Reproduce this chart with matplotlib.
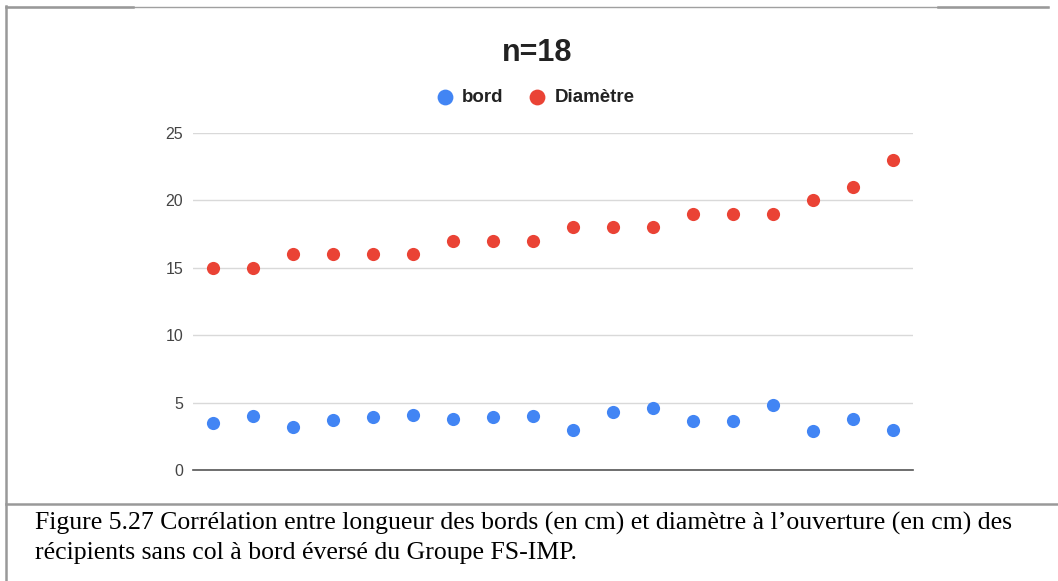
import matplotlib.pyplot as plt
from matplotlib.lines import Line2D

# rim length and opening diameter (cm), 18 vessels
vessels = list(range(1, 19))
bord = [3.5, 4.0, 3.2, 3.7, 3.9, 4.1, 3.8, 3.9, 4.0, 3.0, 4.3, 4.6, 3.6, 3.6, 4.8, 2.9, 3.8, 3.0]
diametre = [15, 15, 16, 16, 16, 16, 17, 17, 17, 18, 18, 18, 19, 19, 19, 20, 21, 23]
yticks = [0, 5, 10, 15, 20, 25]

title = "n=18"
caption = ["Figure 5.27 Corrélation entre longueur des bords (en cm) et diamètre à l\u2019ouverture (en cm) des",
           "récipients sans col à bord éversé du Groupe FS-IMP."]

W, H = 1058, 581
fig = plt.figure(figsize=(W / 100, H / 100), dpi=100)
fig.patch.set_facecolor("white")

def px(x, y):
    return x / W, 1 - y / H

# chart area
l, t = px(193, 133)
r, b = px(913, 470)
ax = fig.add_axes([l, b, r - l, t - b])
ax.scatter(vessels, bord, s=90, color="#4285F4", label="bord", zorder=3, clip_on=False, linewidths=0)
ax.scatter(vessels, diametre, s=90, color="#EA4335", label="Diamètre", zorder=3, clip_on=False, linewidths=0)
ax.set_xlim(0.5, 18.5)
ax.set_ylim(0, 25)
ax.set_yticks(yticks)
ax.set_xticks([])
ax.grid(axis="y", color="#d9d9d9", linewidth=1)
ax.set_axisbelow(True)
for s in ["top", "right", "left"]:
    ax.spines[s].set_visible(False)
ax.spines["bottom"].set_color("#555555")
ax.spines["bottom"].set_linewidth(1.2)
ax.tick_params(axis="y", length=0, pad=7, labelsize=11.5, labelcolor="#444444")
for lab in ax.get_yticklabels():
    lab.set_fontfamily("Liberation Sans")

tx, ty = px(537, 53)
fig.text(tx, ty, title, ha="center", va="center", fontsize=22, fontweight="bold",
         family="Liberation Sans", color="#222222")

lx, ly = px(536, 97)
leg = fig.legend(loc="center", bbox_to_anchor=(lx, ly), ncol=2, frameon=False,
                 prop={"family": "Liberation Sans", "weight": "bold", "size": 13.5},
                 handlelength=0.8, handletextpad=0.5, columnspacing=1.4, markerscale=1.2,
                 borderpad=0)
for txt in leg.get_texts():
    txt.set_color("#222222")

# caption
for i, line in enumerate(caption):
    cx, cy = px(35, 530 + 29 * i)
    fig.text(cx, cy, line, ha="left", va="baseline", fontsize=18.5, family="Liberation Serif", color="black")

# frame lines
def hline(x0, x1, y, lw, c):
    a, yy = px(x0, y)
    bb, _ = px(x1, y)
    fig.add_artist(Line2D([a, bb], [yy, yy], transform=fig.transFigure, color=c, linewidth=lw))

hline(6, 1048, 6.5, 1.0, "#a0a0a0")
hline(6, 133, 6.5, 1.8, "#999999")
hline(938, 1048, 6.5, 1.8, "#999999")
hline(6, 1058, 504, 1.8, "#999999")
x0, y0 = px(6, 6)
_, y1 = px(6, 581)
fig.add_artist(Line2D([x0, x0], [y0, y1], transform=fig.transFigure, color="#999999", linewidth=1.8))

fig.savefig("out.png", dpi=100)
